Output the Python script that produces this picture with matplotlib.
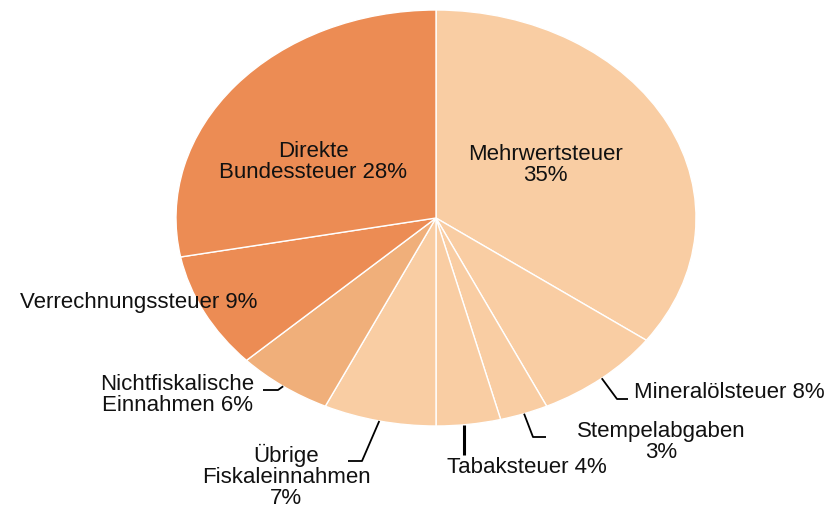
import numpy as np
import matplotlib
matplotlib.use("Agg")
import matplotlib.pyplot as plt

plt.rcParams["font.family"] = ["Liberation Sans", "DejaVu Sans"]

# Anteile der Bundeseinnahmen (Uhrzeigersinn ab 12 Uhr)
labels = [
    "Mehrwertsteuer\n35%",
    "Mineralölsteuer 8%",
    "Stempelabgaben\n3%",
    "Tabaksteuer 4%",
    "Übrige\nFiskaleinnahmen\n7%",
    "Nichtfiskalische\nEinnahmen 6%",
    "Verrechnungssteuer 9%",
    "Direkte\nBundessteuer 28%",
]
shares = [35, 8, 3, 4, 7, 6, 9, 28]
colors = ["#F9CDA3", "#F9CDA3", "#F9CDA3", "#F9CDA3", "#F9CDA3",
          "#F0AF7A", "#EC8C54", "#EC8C54"]

# figure geometry in pixels
W, H = 835, 507
CX, CY, RX, RY = 436, 218, 260, 208


def px(x, y):
    # pixel position (from top-left) -> data coords of the stretched pie
    return (x - CX) / RX, (CY - y) / RY


# label anchors (pixel), alignment, and optional leader (elbow, end) in pixels
# elbow None -> straight vertical drop from the wedge edge
label_pos = [
    ((545, 165), "center", None),
    ((634, 392), "left", ((617, 399), (628, 399))),
    ((661, 442), "center", ((533, 437), (546, 437))),
    ((527, 467), "center", (None, (464, 455))),
    ((286, 476), "center", ((362, 461), (348, 461))),
    ((177, 395), "center", ((278, 390), (263, 390))),
    ((139, 302), "center", None),
    ((313, 162), "center", None),
]

fig = plt.figure(figsize=(W / 100, H / 100), dpi=100)
ax = fig.add_axes([0, 0, 1, 1])

wedges, _ = ax.pie(shares, colors=colors, startangle=90, counterclock=False,
                   radius=1, wedgeprops=dict(edgecolor="white", linewidth=1))

ax.set_aspect("auto")
ax.set_xlim(-CX / RX, (W - CX) / RX)
ax.set_ylim(-(H - CY) / RY, CY / RY)
ax.axis("off")

for w, lab, (pos, ha, leader) in zip(wedges, labels, label_pos):
    tx, ty = px(*pos)
    ax.text(tx, ty, lab, ha=ha, va="center", fontsize=16, linespacing=1.0,
            color="#111111", multialignment="center")
    if leader is None:
        continue
    mid = np.deg2rad((w.theta1 + w.theta2) / 2)
    sx, sy = np.cos(mid), np.sin(mid)
    fx, fy = px(*leader[1])
    if leader[0] is None:
        # vertical stub just left of the wedge middle
        sx = fx
        sy = np.sqrt(max(0.0, 1 - sx ** 2)) * -1
        ax.plot([sx, fx], [sy, fy], color="black", lw=2.2,
                solid_capstyle="butt", clip_on=False)
    else:
        ex, ey = px(*leader[0])
        ax.plot([sx, ex, fx], [sy, ey, fy], color="black", lw=1.3,
                solid_capstyle="butt", clip_on=False)

fig.savefig("out.png", dpi=100)
